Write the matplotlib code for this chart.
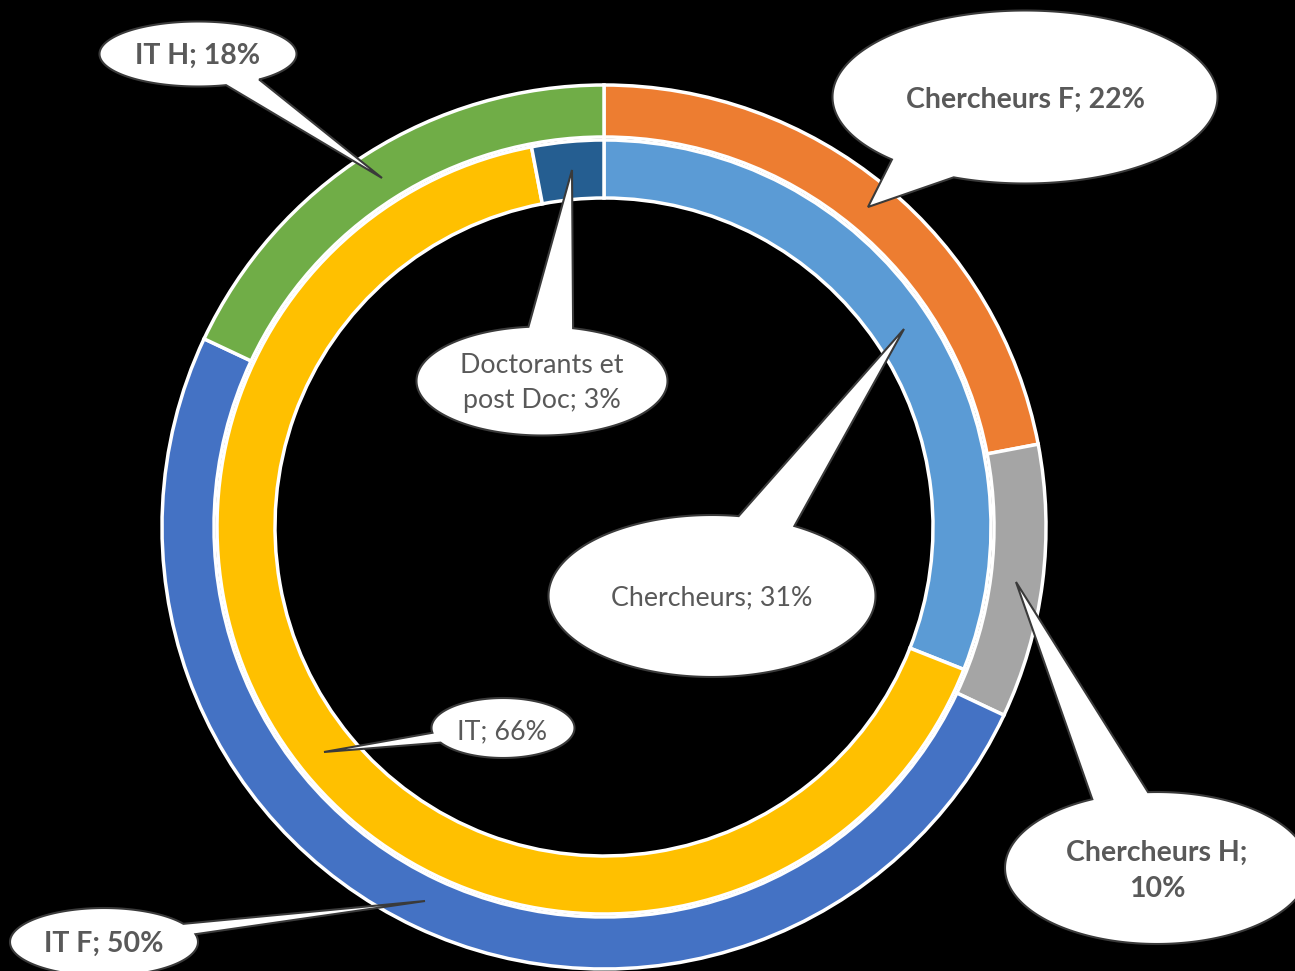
import numpy as np
import matplotlib
matplotlib.use("Agg")
import matplotlib.pyplot as plt
from matplotlib.patches import Polygon

# ---- data ----
outer_labels = ["Chercheurs F", "Chercheurs H", "IT F", "IT H"]
outer_values = [22, 10, 50, 18]
outer_colors = ["#ED7D31", "#A5A5A5", "#4472C4", "#70AD47"]

inner_labels = ["Chercheurs", "IT", "Doctorants et post Doc"]
inner_values = [31, 66, 3]
inner_colors = ["#5B9BD5", "#FFC000", "#255E91"]

W, H = 1295, 971
fig = plt.figure(figsize=(W / 100, H / 100), dpi=100, facecolor="black")
ax = fig.add_axes([0, 0, 1, 1])
ax.set_facecolor("black")

cx, cy = 604, 527
ax.pie(outer_values, radius=442, center=(cx, cy), colors=outer_colors,
       startangle=-90, counterclock=True,
       wedgeprops=dict(width=52, edgecolor="white", linewidth=2.5))
ax.pie(inner_values, radius=387, center=(cx, cy), colors=inner_colors,
       startangle=-90, counterclock=True,
       wedgeprops=dict(width=58, edgecolor="white", linewidth=2.5))

ax.set_xlim(0, W)
ax.set_ylim(H, 0)
ax.set_aspect("equal")
ax.axis("off")

TEXT_COLOR = "#595959"
FONT = ["Lato", "DejaVu Sans"]


def bubble(c, w, h, b1, b2, tip, text, bold, fs, tpos=None):
    ex, ey = c
    a1 = np.arctan2((b1[1] - ey) / (h / 2), (b1[0] - ex) / (w / 2))
    a2 = np.arctan2((b2[1] - ey) / (h / 2), (b2[0] - ex) / (w / 2))
    d = (a2 - a1) % (2 * np.pi)
    if d < np.pi:
        t = np.linspace(a2, a2 + (2 * np.pi - d), 300)
    else:
        t = np.linspace(a1, a1 + d, 300)
    xs = ex + (w / 2) * np.cos(t)
    ys = ey + (h / 2) * np.sin(t)
    pts = np.column_stack([xs, ys])
    pts = np.vstack([pts, [tip]])
    ax.add_patch(Polygon(pts, closed=True, facecolor="white",
                         edgecolor="#3a3a3a", linewidth=1.5, zorder=5,
                         joinstyle="miter"))
    tx, ty = tpos if tpos is not None else c
    ax.text(tx, ty + 2, text, ha="center", va="center", color=TEXT_COLOR,
            fontsize=fs, fontweight="bold" if bold else "normal",
            family=FONT, linespacing=1.52, zorder=6)


def lab(name, val, sep="; "):
    return f"{name}{sep}{val}%"


BF, RF = 20.5, 19.3
# outer ring labels (bold)
bubble((198, 54), 197, 65, (225, 84), (258, 79), (382, 178),
       lab(outer_labels[3], outer_values[3]), True, BF)
bubble((1025, 97), 385, 173, (893, 159), (954, 177), (868, 207),
       lab(outer_labels[0], outer_values[0]), True, BF, tpos=(1025, 98))
bubble((1157, 868), 304, 152, (1093, 800), (1148, 792), (1016, 582),
       lab(outer_labels[1], outer_values[1], ";\n"), True, BF, tpos=(1157, 869))
bubble((104, 942), 188, 68, (187, 923), (198, 934), (425, 901),
       lab(outer_labels[2], outer_values[2]), True, BF)
# inner ring labels (regular)
bubble((712, 596), 327, 162, (740, 512), (798, 523), (904, 329),
       lab(inner_labels[0], inner_values[0]), False, RF)
bubble((503, 728), 143, 60, (429, 733), (439, 743), (324, 752),
       lab(inner_labels[1], inner_values[1]), False, RF, tpos=(502, 730))
bubble((542, 381), 251, 109, (528, 325), (575, 325), (572, 170),
       lab("Doctorants et\npost Doc", inner_values[2]), False, RF)

fig.savefig("out.png", dpi=100, facecolor="black")
